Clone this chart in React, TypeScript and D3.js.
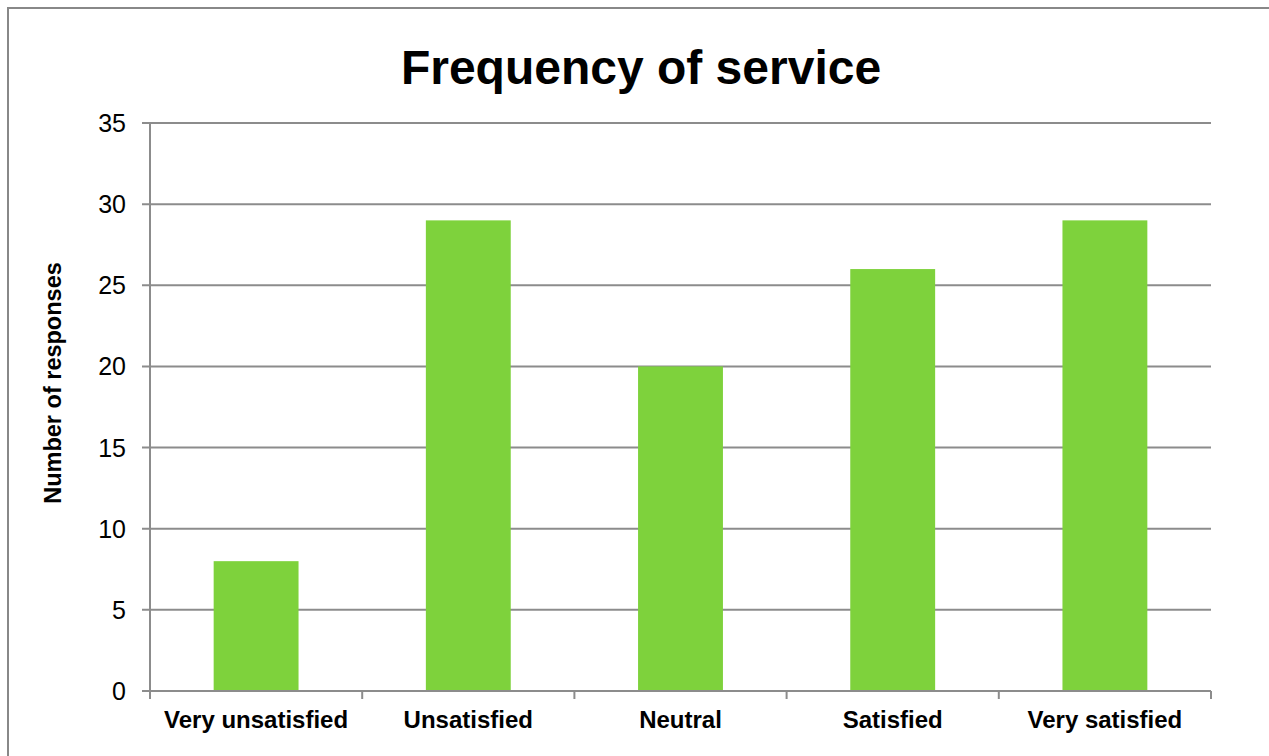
import React from "react";
import * as d3 from "d3";

const categories = ["Very unsatisfied", "Unsatisfied", "Neutral", "Satisfied", "Very satisfied"];
const responses = [8, 29, 20, 26, 29];
const yTicks = [0, 5, 10, 15, 20, 25, 30, 35];

const W = 1269;
const H = 756;
const plot = { left: 150, right: 1211, top: 123, bottom: 691 };
const FONT = "'Liberation Sans', Arial, sans-serif";
const BAR = "#7ED23C";
const GRID = "#8C8C8C";

export default function App() {
  const x = d3
    .scaleBand<string>()
    .domain(categories)
    .range([plot.left, plot.right])
    .paddingInner(0.6)
    .paddingOuter(0.3);
  const band = d3.scaleBand<string>().domain(categories).range([plot.left, plot.right]);
  const y = d3.scaleLinear().domain([0, 35]).range([plot.bottom, plot.top]);

  const boundaries = d3.range(categories.length + 1).map(
    (i) => plot.left + i * band.step()
  );

  return (
    <svg
      width={W}
      height={H}
      style={{ position: "absolute", left: 0, top: 0, background: "#fff" }}
      fontFamily={FONT}
    >
      <rect x={8} y={8} width={W + 10} height={H + 10} fill="#fff" stroke="#888" strokeWidth={2} />

      <text x={641} y={84} textAnchor="middle" fontSize={48} fontWeight="bold" fill="#000">
        Frequency of service
      </text>

      {yTicks.map((t) => (
        <g key={t}>
          <line x1={plot.left - 8} x2={plot.right} y1={y(t)} y2={y(t)} stroke={GRID} strokeWidth={2} />
          <text x={126} y={y(t)} dy="0.36em" textAnchor="end" fontSize={25} fill="#000">
            {t}
          </text>
        </g>
      ))}

      <line x1={plot.left} x2={plot.left} y1={plot.top} y2={plot.bottom} stroke={GRID} strokeWidth={2} />

      {categories.map((c, i) => (
        <rect
          key={c}
          x={x(c)}
          y={y(responses[i])}
          width={x.bandwidth()}
          height={plot.bottom - y(responses[i])}
          fill={BAR}
        />
      ))}

      <line x1={plot.left} x2={plot.right} y1={plot.bottom} y2={plot.bottom} stroke={GRID} strokeWidth={2} />
      {boundaries.map((bx, i) => (
        <line key={i} x1={bx} x2={bx} y1={plot.bottom} y2={plot.bottom + 8} stroke={GRID} strokeWidth={2} />
      ))}

      {categories.map((c) => (
        <text
          key={c}
          x={(band(c) as number) + band.bandwidth() / 2}
          y={728}
          textAnchor="middle"
          fontSize={24}
          fontWeight="bold"
          fill="#000"
        >
          {c}
        </text>
      ))}

      <text
        transform="translate(61, 383) rotate(-90)"
        textAnchor="middle"
        fontSize={23.5}
        fontWeight="bold"
        fill="#000"
      >
        Number of responses
      </text>
    </svg>
  );
}
